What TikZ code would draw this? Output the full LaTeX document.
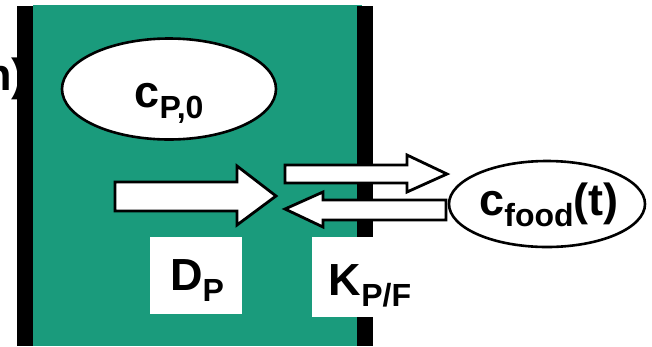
\documentclass[tikz,border=0pt]{standalone}
\usepackage{fontspec}
\setmainfont{Liberation Sans}
\usetikzlibrary{shapes.geometric}
\definecolor{gel}{RGB}{26,155,124}
\newcommand{\lowsub}[1]{\raisebox{-11pt}{\fontsize{32}{32}\selectfont #1}}
\tikzset{
  conc/.style={ellipse, draw, line width=2.6pt, fill=white, inner sep=0pt},
  blockarrow/.style={draw, line width=2.8pt, fill=white, line join=miter},
  lab/.style={font=\bfseries\fontsize{45}{45}\selectfont, inner sep=0pt},
  labbox/.style={fill=white, inner sep=0pt}
}
\begin{document}
\begin{tikzpicture}[x=1pt, y=-1pt]
      \useasboundingbox (0,0) rectangle (652,346);
      % left-over heading, cut at the page edge
      \begin{scope}
        \clip (0,0) rectangle (652,346);
        \node[lab, anchor=base east] (head) at (27,90) {n)};
      \end{scope}
      % packaging layer with its two walls
      \fill[gel] (33,5) rectangle (362,346);
      \fill (17,6) rectangle (33,346);
      \fill (357,6) rectangle (373,346);
      % concentrations
      \node[conc, minimum width=214, minimum height=101] (cp0) at (169,89) {};
      \node[lab, anchor=base] (cp0txt) at (169,107) {c\lowsub{P,0}};
      \node[conc, minimum width=196, minimum height=86] (cfood) at (547,204) {};
      \node[lab, anchor=base] (cfoodtxt) at (549,215) {c\lowsub{food}(t)};
      % transport arrows
      \draw[blockarrow] (115,182) -- (237,182) -- (237,166) -- (276,196)
        -- (237,225) -- (237,211) -- (115,211) -- cycle;
      \draw[blockarrow] (285,165) -- (407,165) -- (407,155) -- (447,174)
        -- (407,192) -- (407,183) -- (285,183) -- cycle;
      \draw[blockarrow] (446,200) -- (323,200) -- (323,192) -- (285,209)
        -- (323,227) -- (323,220) -- (446,220) -- cycle;
      % parameter labels
      \fill[white] (150,237) rectangle (242,314);
      \fill[white] (312,237) rectangle (420,317);
      \node[lab, anchor=base] (dp) at (197,290) {D\lowsub{P}};
      \node[lab, anchor=base] (kpf) at (370,295) {K\lowsub{P/F}};
    \end{tikzpicture}
\end{document}
